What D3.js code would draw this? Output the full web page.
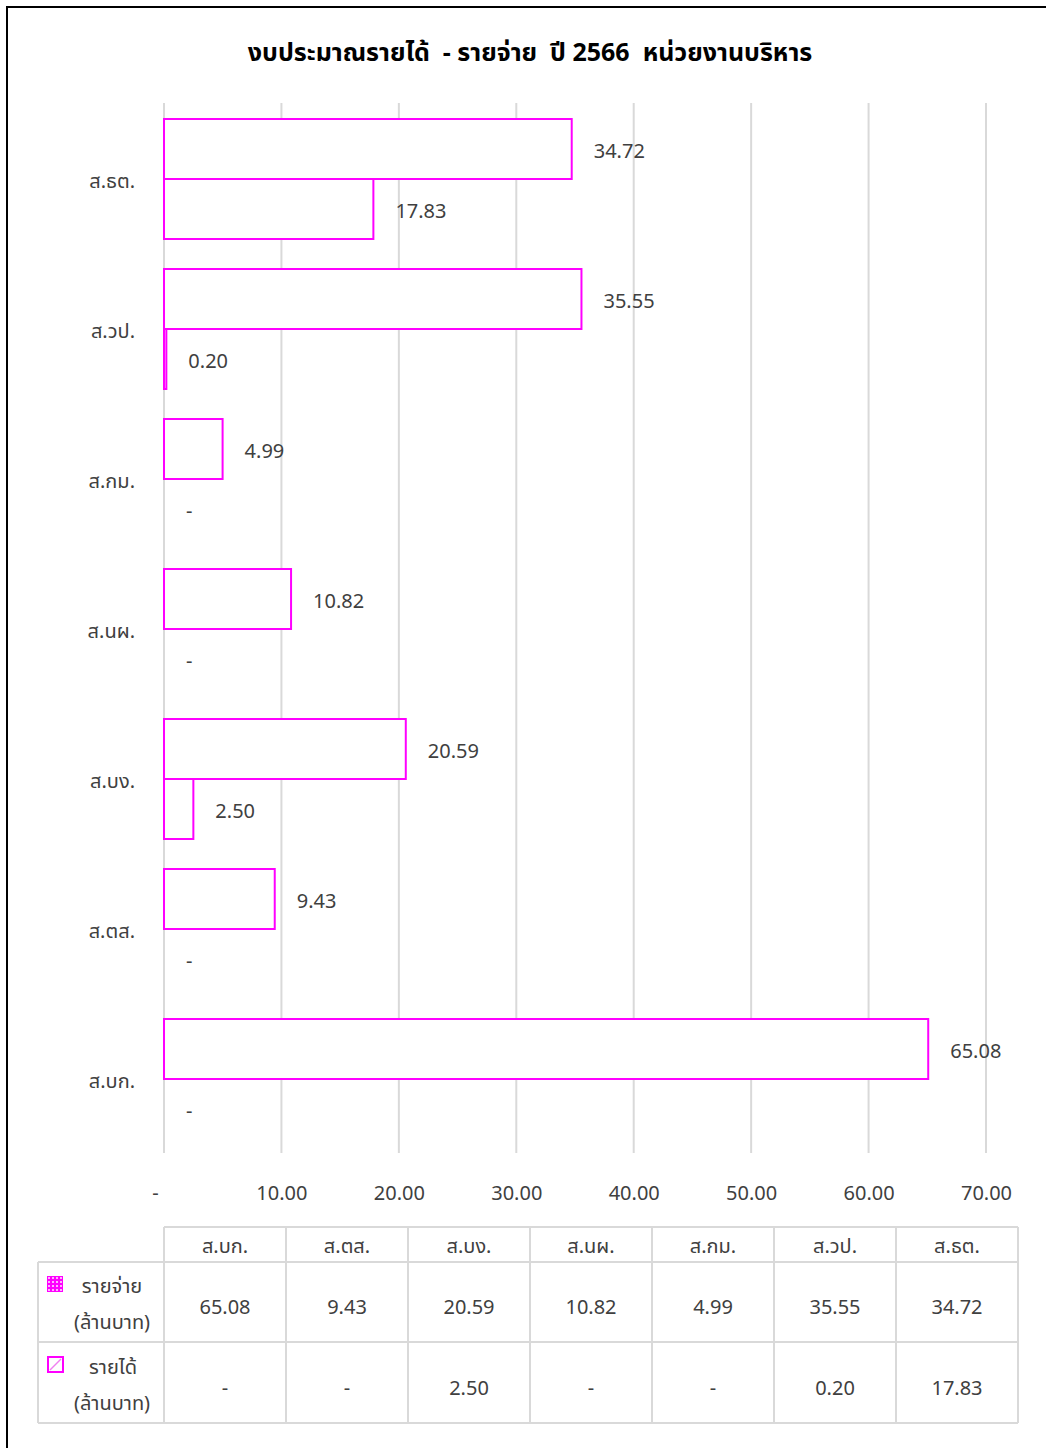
<!DOCTYPE html>
<html>
<head>
<meta charset="utf-8">
<script src="https://cdn.jsdelivr.net/npm/d3@7"></script>
<style>
  html, body { margin: 0; padding: 0; background: #fff; }
  svg { display: block; }
  text { font-family: "Noto Sans Thai", "Leelawadee UI", Tahoma, "Noto Sans", "DejaVu Sans", sans-serif; }
</style>
</head>
<body>
<svg id="chart" width="1046" height="1448"></svg>
<script>
// Units in table order (left to right)
const units = ["ส.บก.", "ส.ตส.", "ส.บง.", "ส.นผ.", "ส.กม.", "ส.วป.", "ส.ธต."];
// Expense budget (million baht)
const expense = [65.08, 9.43, 20.59, 10.82, 4.99, 35.55, 34.72];
// Revenue budget (million baht)
const income = [0, 0, 2.50, 0, 0, 0.20, 17.83];
const xTicks = [0, 10, 20, 30, 40, 50, 60, 70];
const seriesNames = ["รายจ่าย", "รายได้"];
const unitLabel = "(ล้านบาท)";
const title = "งบประมาณรายได้  - รายจ่าย  ปี 2566  หน่วยงานบริหาร";

const fmt = v => v === 0 ? "-" : d3.format(".2f")(v);
const MAG = "#ff00ff";
const TXT = "#404040";
const GRID = "#d9d9d9";

const svg = d3.select("#chart");

// outer frame
svg.append("rect").attr("x", 7).attr("y", 7).attr("width", 1060).attr("height", 1460)
  .attr("fill", "none").attr("stroke", "#000").attr("stroke-width", 2);

// title
svg.append("text").attr("x", 530).attr("y", 53)
  .attr("text-anchor", "middle").attr("dominant-baseline", "central")
  .attr("font-size", 25).attr("font-weight", "bold").attr("fill", "#000")
  .style("white-space", "pre").text(title);

const plot = { left: 164, right: 986, top: 104, bottom: 1154 };
const x = d3.scaleLinear().domain([0, 70]).range([plot.left, plot.right]);

// bottom-to-top: ส.บก. at the bottom
const y = d3.scaleBand().domain(units.slice().reverse())
  .range([plot.top, plot.bottom]).paddingInner(0.2).paddingOuter(0.1);
const sub = d3.scaleBand().domain(["expense", "income"]).range([0, y.bandwidth()]);

// gridlines
svg.append("g").selectAll("line").data(xTicks).join("line")
  .attr("x1", d => x(d)).attr("x2", d => x(d))
  .attr("y1", plot.top - 1).attr("y2", plot.bottom - 1)
  .attr("stroke", GRID).attr("stroke-width", 2);

// x axis labels
const xAxis = d3.axisBottom(x).tickValues(xTicks).tickSize(0).tickFormat(fmt);
const gx = svg.append("g").attr("transform", `translate(0,${plot.bottom + 37})`).call(xAxis);
gx.select(".domain").remove();
gx.selectAll("text").attr("font-size", 20).attr("fill", TXT)
  .attr("dy", 0).attr("dominant-baseline", "central")
  .attr("dx", d => d === 0 ? -9 : 0);

// category axis labels
const yAxis = d3.axisLeft(y).tickSize(0).tickPadding(0);
const gy = svg.append("g").attr("transform", `translate(${plot.left - 29},3)`).call(yAxis);
gy.select(".domain").remove();
gy.selectAll("text").attr("font-size", 20).attr("fill", TXT).attr("dy", 0)
  .attr("dominant-baseline", "central");

// bars
const rows = units.map((u, i) => ({ unit: u, expense: expense[i], income: income[i] }));
const series = ["expense", "income"];
const bars = svg.append("g");
rows.forEach(r => {
  series.forEach(s => {
    const v = r[s];
    const y0 = y(r.unit) + sub(s);
    if (v > 0) {
      bars.append("rect")
        .attr("x", x(0)).attr("y", y0)
        .attr("width", x(v) - x(0)).attr("height", sub.bandwidth())
        .attr("fill", "#fff").attr("stroke", MAG).attr("stroke-width", 2);
    }
    bars.append("text")
      .attr("x", x(v) + 22).attr("y", y0 + sub.bandwidth() / 2 + 3)
      .attr("dominant-baseline", "central")
      .attr("font-size", 20).attr("fill", TXT).text(fmt(v));
  });
});

// data table
const tbl = { left: 38, colLeft: 164, right: 1018, headTop: 1227, headBottom: 1262, row1: 1342, bottom: 1423 };
const col = d3.scaleBand().domain(units).range([tbl.colLeft, tbl.right]);
const tg = svg.append("g");
const line = (x1, y1, x2, y2) => tg.append("line")
  .attr("x1", x1).attr("y1", y1).attr("x2", x2).attr("y2", y2)
  .attr("stroke", GRID).attr("stroke-width", 2);
line(tbl.colLeft, tbl.headTop, tbl.right, tbl.headTop);
line(tbl.left, tbl.headBottom, tbl.right, tbl.headBottom);
line(tbl.left, tbl.row1, tbl.right, tbl.row1);
line(tbl.left, tbl.bottom, tbl.right, tbl.bottom);
line(tbl.left, tbl.headBottom, tbl.left, tbl.bottom);
units.forEach(u => line(col(u), tbl.headTop, col(u), tbl.bottom));
line(tbl.right, tbl.headTop, tbl.right, tbl.bottom);

units.forEach((u, i) => {
  const cx = col(u) + col.bandwidth() / 2;
  tg.append("text").attr("x", cx).attr("y", (tbl.headTop + tbl.headBottom) / 2 + 2)
    .attr("text-anchor", "middle").attr("dominant-baseline", "central")
    .attr("font-size", 20).attr("fill", TXT).text(u);
  tg.append("text").attr("x", cx).attr("y", (tbl.headBottom + tbl.row1) / 2 + 6)
    .attr("text-anchor", "middle").attr("dominant-baseline", "central")
    .attr("font-size", 20).attr("fill", TXT).text(fmt(expense[i]));
  tg.append("text").attr("x", cx).attr("y", (tbl.row1 + tbl.bottom) / 2 + 6)
    .attr("text-anchor", "middle").attr("dominant-baseline", "central")
    .attr("font-size", 20).attr("fill", TXT).text(fmt(income[i]));
});

// legend keys
const defs = svg.append("defs");
const pat = defs.append("pattern").attr("id", "dots").attr("patternUnits", "userSpaceOnUse")
  .attr("x", 47).attr("y", 1276).attr("width", 4).attr("height", 4);
pat.append("rect").attr("width", 4).attr("height", 4).attr("fill", MAG);
pat.append("rect").attr("x", 1).attr("y", 1).attr("width", 2).attr("height", 2).attr("fill", "#ffb0ff");

tg.append("rect").attr("x", 47).attr("y", 1276).attr("width", 16).attr("height", 16)
  .attr("fill", "url(#dots)");
tg.append("rect").attr("x", 48).attr("y", 1357).attr("width", 15).attr("height", 15)
  .attr("fill", "#fff").attr("stroke", MAG).attr("stroke-width", 2);
tg.append("line").attr("x1", 50).attr("y1", 1370).attr("x2", 61).attr("y2", 1359)
  .attr("stroke", "#f080f0").attr("stroke-width", 1.5);

[[seriesNames[0], 1287, 1323, 112], [seriesNames[1], 1368, 1404, 113]].forEach(([name, y1, y2, cx]) => {
  tg.append("text").attr("x", cx).attr("y", y1).attr("text-anchor", "middle")
    .attr("dominant-baseline", "central").attr("font-size", 20).attr("fill", TXT).text(name);
  tg.append("text").attr("x", 112).attr("y", y2).attr("text-anchor", "middle")
    .attr("dominant-baseline", "central").attr("font-size", 20).attr("fill", TXT).text(unitLabel);
});
</script>
</body>
</html>
